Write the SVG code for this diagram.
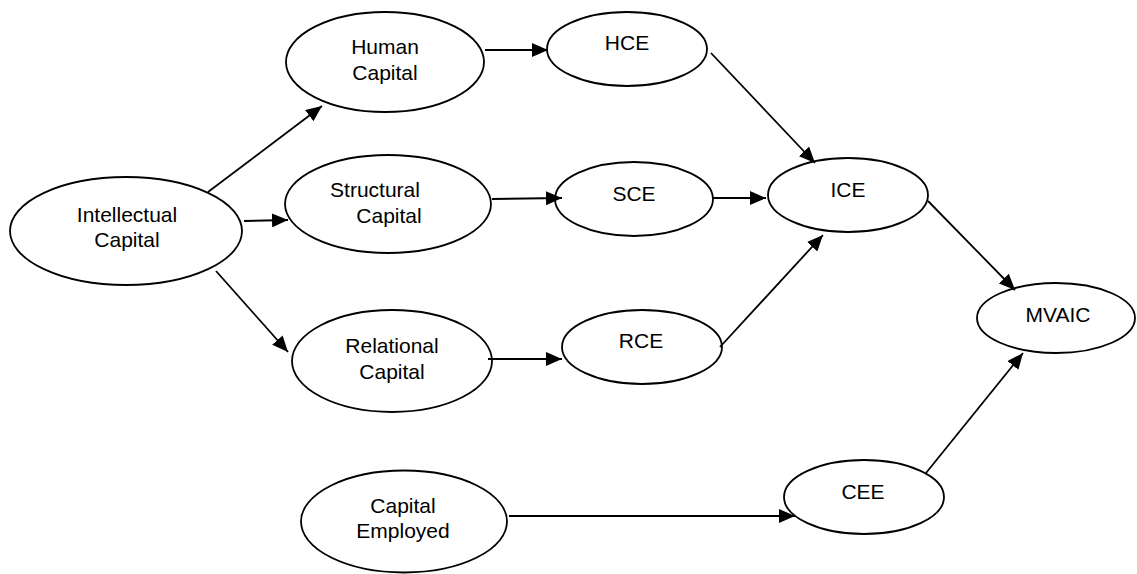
<svg xmlns="http://www.w3.org/2000/svg" width="1137" height="574" viewBox="0 0 1137 574">
<style>
.n{fill:#fff;stroke:#000;stroke-width:1.8}
.t{font-family:"Liberation Sans",Arial,sans-serif;font-size:21px;fill:#000;text-anchor:middle}
.c line{stroke:#000;stroke-width:1.8;marker-end:url(#a)}
</style>
<defs>
<marker id="a" markerUnits="userSpaceOnUse" markerWidth="16" markerHeight="14" refX="16" refY="7" orient="auto">
<path d="M0,0 L16,7 L0,14 z" fill="#000"/>
</marker>
</defs>
<rect width="1137" height="574" fill="#fff"/>
<g id="n-ic"><ellipse class="n" cx="126" cy="231" rx="116" ry="54"/><text class="t" x="127" y="222">Intellectual</text><text class="t" x="127" y="247">Capital</text></g>
<g id="n-hc"><ellipse class="n" cx="385" cy="62" rx="99" ry="50"/><text class="t" x="385" y="54">Human</text><text class="t" x="385" y="80">Capital</text></g>
<g id="n-hce"><ellipse class="n" cx="627" cy="49" rx="80" ry="37"/><text class="t" x="627" y="50">HCE</text></g>
<g id="n-sc"><ellipse class="n" cx="388" cy="204" rx="103" ry="49"/><text class="t" x="375" y="197">Structural</text><text class="t" x="389" y="223">Capital</text></g>
<g id="n-sce"><ellipse class="n" cx="634" cy="199" rx="79" ry="37"/><text class="t" x="634" y="201">SCE</text></g>
<g id="n-ice"><ellipse class="n" cx="848" cy="195" rx="80" ry="37"/><text class="t" x="848" y="197">ICE</text></g>
<g id="n-rc"><ellipse class="n" cx="392" cy="361" rx="100" ry="51"/><text class="t" x="392" y="353">Relational</text><text class="t" x="392" y="379">Capital</text></g>
<g id="n-rce"><ellipse class="n" cx="642" cy="347" rx="80" ry="37"/><text class="t" x="641" y="348">RCE</text></g>
<g id="n-mvaic"><ellipse class="n" cx="1056" cy="318" rx="79" ry="35"/><text class="t" x="1058" y="322">MVAIC</text></g>
<g id="n-ce"><ellipse class="n" cx="404" cy="521.5" rx="103" ry="51"/><text class="t" x="403" y="513">Capital</text><text class="t" x="403" y="538">Employed</text></g>
<g id="n-cee"><ellipse class="n" cx="864" cy="497" rx="80" ry="37"/><text class="t" x="863" y="499">CEE</text></g>
<g id="connectors" class="c">
<line x1="208" y1="192" x2="322" y2="106"/>
<line x1="244" y1="221" x2="288" y2="220"/>
<line x1="216" y1="271" x2="288" y2="352"/>
<line x1="485" y1="50" x2="548" y2="50"/>
<line x1="492" y1="199" x2="562" y2="198"/>
<line x1="488" y1="359" x2="562" y2="359"/>
<line x1="711" y1="53" x2="815" y2="163"/>
<line x1="712" y1="198" x2="766" y2="198"/>
<line x1="720" y1="347" x2="823" y2="235"/>
<line x1="928" y1="201" x2="1015" y2="290"/>
<line x1="509" y1="516" x2="795" y2="516"/>
<line x1="926" y1="473" x2="1023" y2="353"/>
</g>
</svg>
